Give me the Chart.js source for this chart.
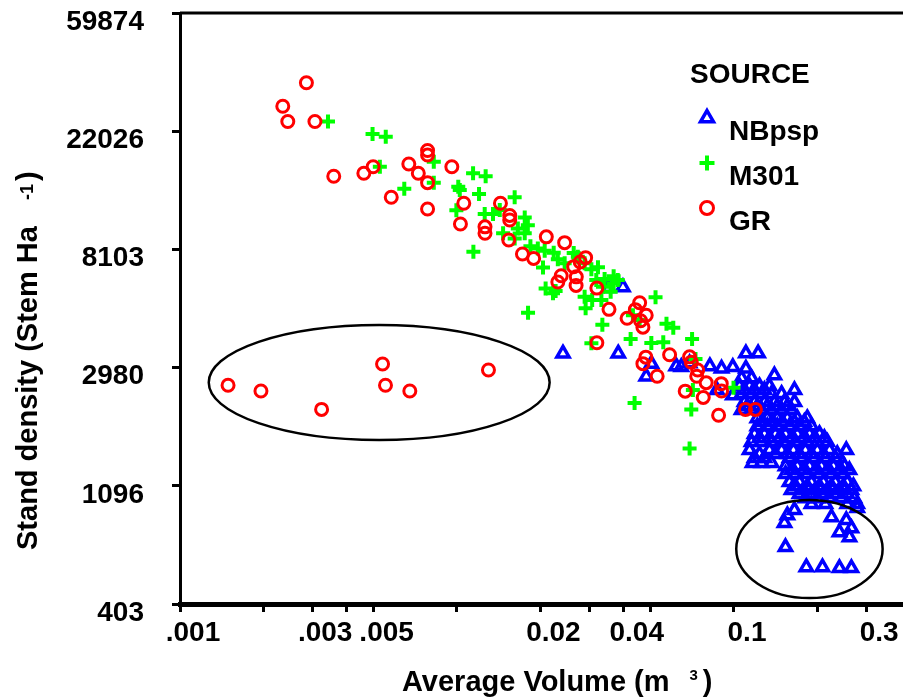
<!DOCTYPE html>
<html lang="en">

<head>
    <meta charset="UTF-8">
    <meta name="viewport" content="width=device-width, initial-scale=1.0">
    <title>Stand density vs Average Volume</title>
    <style>
        body {
            margin: 0;
            background: #fff;
        }

        #wrap {
            width: 903px;
            height: 700px;
        }
    </style>
</head>

<body>
    <div id="wrap"><canvas id="chart" width="903" height="700"></canvas></div>

    <script src="https://cdn.jsdelivr.net/npm/chart.js"></script>
    <script>
        // 軸の目盛り
        const xTickValues = [0.001, 0.002, 0.003, 0.004, 0.005, 0.01, 0.02, 0.03, 0.04, 0.05, 0.1, 0.2, 0.3];
        const xTickText = ['.001', '', '.003', '', '.005', '', '0.02', '', '0.04', '', '0.1', '', '0.3'];
        const xMin = 0.001;
        const xMax = 0.4075;
        const yTickValues = [403.43, 1096.63, 2980.96, 8103.08, 22026.47, 59874.14];
        const yTickText = ['403', '1096', '2980', '8103', '22026', '59874'];

        // NBpsp (三角)
        const nbpspX = [
            .02413, .0382, .03972, .03522, .0503, .04821, .06185, .06453, .06913, .08182,
            .09017, .09903, .1104, .1104, .1222, .1399, .1653, .08676, .09903,
            .1065, .1157,
            .1047, .1138, .1236, .1343,
            .1091, .1186, .1288,
            .1065, .1157, .1257, .1366, .1485,
            .1091, .1186, .1288, .1399, .1521, .1653,
            .1117, .1214, .1319, .1433, .1558,
            .1065, .1157, .1257, .1366, .1485, .1613,
            .1214, .1319, .1433, .1558, .1693, .1839,
            .1267, .1377, .1497, .1653, .1795,
            .1214, .1319, .1433, .1586, .1723, .1904,
            .1186, .1288, .1411, .1534, .1693, .1873, .2035,
            .1236, .1343, .1460, .1613, .1781, .1952, .2120,
            .1157, .1257, .1366, .1509, .1666, .1839, .1999, .2172,
            .1138, .1343, .1485, .1639, .1810, .1999, .2211, .2543,
            .1236, .1411, .1558, .1723, .1904, .2103, .2360,
            .1186, .1288, .1586, .1752, .1936, .2138, .2322,
            .1167, .1257, .1366,
            .1534, .1693, .1873, .2069, .2285, .2503,
            .1613, .1781, .1967, .2172, .2402, .2610,
            .1534, .1666, .1839, .2035, .2248, .2483,
            .1586, .1723, .1904, .2103, .2322, .2563,
            .1666, .1839, .2035, .2248, .2483, .2698,
            .1613, .1781, .1967, .2172, .2402, .2654,
            .1723, .1904, .2103, .2322, .2563,
            .1810, .1999, .2211, .2442, .2720,
            .1904, .2138, .2563, .2785,
            .1653, .1558, .1521, .1534, .2248, .2543, .2654, .2402, .2610, .2785,
            .1824, .2086, .2402, .2654
        ];
        const nbpspY = [
            3359, 3359, 5888, 5840, 3082, 2765, 3016, 2999, 3092, 3016,
            2957, 2996, 2957, 3365, 3365, 2794, 2466, 2466, 2359,
            2727, 2727,
            2547, 2547, 2547, 2547,
            2466, 2466, 2466,
            2385, 2385, 2385, 2385, 2385,
            2228, 2228, 2228, 2228, 2228, 2228,
            2150, 2150, 2150, 2150, 2150,
            2081, 2081, 2081, 2081, 2081, 2081,
            1944, 1944, 1944, 1944, 1944, 1944,
            1881, 1881, 1881, 1881, 1881,
            1816, 1816, 1816, 1816, 1816, 1816,
            1700, 1700, 1700, 1700, 1700, 1700, 1700,
            1642, 1642, 1642, 1642, 1642, 1642, 1642,
            1589, 1589, 1589, 1589, 1589, 1589, 1589, 1589,
            1484, 1484, 1484, 1484, 1484, 1484, 1484, 1484,
            1435, 1435, 1435, 1435, 1435, 1435, 1435,
            1386, 1386, 1386, 1386, 1386, 1386, 1386,
            1330, 1330, 1330,
            1294, 1294, 1294, 1294, 1294, 1294,
            1253, 1253, 1253, 1253, 1253, 1253,
            1212, 1212, 1212, 1212, 1212, 1212,
            1132, 1132, 1132, 1132, 1132, 1132,
            1093, 1093, 1093, 1093, 1093, 1093,
            1058, 1058, 1058, 1058, 1058, 1058,
            1023, 1023, 1023, 1023, 1023,
            988, 988, 988, 988, 988,
            940, 940, 940, 940,
            893, 855, 801, 653, 841, 821, 766, 741, 710, 908,
            551, 551, 547, 547
        ];

        // M301 (十字)
        const m301X = [
            .003422, .004956, .005531, .005266, .006452, .008245, .008245, .010106, .010234, .01143,
            .01269, .01201, .009948, .01259, .01349, .01427, .01615, .01467, .01146, .01756,
            .01802, .01756, .01658, .01615, .01841, .01958, .02073, .02234, .02312, .02447,
            .02638, .02044, .02889, .03056, .03228, .03183, .03411, .03677, .03805, .03677,
            .02089, .0227, .02221, .02889, .03076, .03321, .02913, .03587, .01805, .03348,
            .05209, .04316, .04564, .05705, .06037, .04235, .0503, .05555, .07058, .03056,
            .04376, .07012, .07105, .07262, .0996, .06913, .0273, .03365
        ];
        const m301Y = [
            23900, 21520, 21000, 16300, 13540, 17020, 14250, 13760, 13390, 15430,
            15050, 12950, 11280, 10940, 10940, 11310, 12610, 9288, 7948, 10620,
            9939, 9288, 9676, 8891, 8325, 8169, 8014, 7881, 7450, 7206,
            7861, 6957, 7206, 6845, 6974, 6254, 6305, 6459, 6254, 6084,
            5826, 5699, 5590, 5433, 5280, 5280, 4920, 5666, 4744, 4283,
            5410, 4641, 4458, 4322, 4180, 3801, 3671, 3696, 3795, 3662,
            2210, 2093, 2466, 3205, 2516, 1504, 7607, 5902
        ];

        // GR (丸)
        const grX = [
            .00286, .00235, .00245, .00307, .00359, .00461, .00498, .00670, .00725, .00783,
            .00783, .00783, .00579, .00783, .00958, .01058, .01029, .01262, .01262, .01435,
            .01550, .01550, .01538, .01723, .01891, .02101, .02447, .02913, .02785, .02638,
            .02378, .02312, .02696, .02691, .03198, .03538, .04564, .04405, .04112, .04821,
            .04602, .04690, .03198, .04806, .04690, .05280, .05855, .06913, .07012, .07395,
            .07337, .07934, .08995, .09017, .06667, .07744, .08799, .1100, .1195, .001491,
            .00196, .003245, .005386, .005519, .006756, .01299
        ];
        const grY = [
            33200, 27200, 23900, 23900, 15050, 15430, 16300, 16690, 15430, 14250,
            18700, 18000, 12600, 11400, 16300, 11970, 10050, 9806, 9288, 11970,
            10800, 10390, 8772, 7795, 7510, 9010, 8578, 7558, 7285, 7003,
            6485, 6151, 6423, 5974, 5840, 4880, 5162, 4867, 4523, 4641,
            4432, 4198, 3680, 3257, 3082, 2771, 3323, 3265, 3121, 2920,
            2771, 2624, 2602, 2446, 2442, 2316, 1991, 2093, 2093, 2567,
            2446, 2093, 3074, 2567, 2446, 2920
        ];

        // 囲みの楕円 (データ座標の範囲)
        const ringX = [[0.00127, 0.0216], [0.1019, 0.344]];
        const ringY = [[1616, 4275], [424, 973]];

        const FONT = "'Liberation Sans', Arial, sans-serif";

        function toPoints(xs, ys) {
            return xs.map((x, i) => ({ x: x, y: ys[i] }));
        }

        // 上付き文字を含むテキストを描く
        function drawPieces(ctx, pieces) {
            let cx = 0;
            pieces.forEach(p => {
                cx += p.gap || 0;
                ctx.font = `bold ${p.size}px ${FONT}`;
                ctx.fillText(p.text, cx, -(p.rise || 0));
                cx += ctx.measureText(p.text).width;
            });
        }

        const decorPlugin = {
            id: 'decor',
            afterDraw(chart) {
                const { ctx, chartArea, scales } = chart;
                ctx.save();

                // 上の枠線
                ctx.strokeStyle = '#000';
                ctx.lineWidth = 3;
                ctx.beginPath();
                ctx.moveTo(chartArea.left, chartArea.top);
                ctx.lineTo(chartArea.right, chartArea.top);
                ctx.stroke();

                // 楕円
                ctx.lineWidth = 2.5;
                ringX.forEach((r, i) => {
                    const x1 = scales.x.getPixelForValue(r[0]);
                    const x2 = scales.x.getPixelForValue(r[1]);
                    const y1 = scales.y.getPixelForValue(ringY[i][0]);
                    const y2 = scales.y.getPixelForValue(ringY[i][1]);
                    ctx.beginPath();
                    ctx.ellipse((x1 + x2) / 2, (y1 + y2) / 2, Math.abs(x2 - x1) / 2, Math.abs(y2 - y1) / 2, 0, 0, Math.PI * 2);
                    ctx.stroke();
                });

                // 軸タイトル
                ctx.fillStyle = '#000';
                ctx.textAlign = 'left';
                ctx.textBaseline = 'alphabetic';
                ctx.save();
                ctx.translate(402, 691);
                drawPieces(ctx, [
                    { text: 'Average Volume (m', size: 29 },
                    { text: '3', size: 15, rise: 11, gap: 20 },
                    { text: ')', size: 29, gap: 5 }
                ]);
                ctx.restore();

                ctx.save();
                ctx.translate(37, 550);
                ctx.rotate(-Math.PI / 2);
                drawPieces(ctx, [
                    { text: 'Stand density (Stem Ha', size: 29 },
                    { text: '-1', size: 18, rise: 4, gap: 26 },
                    { text: ')', size: 29, gap: 3 }
                ]);
                ctx.restore();

                // 凡例
                ctx.font = `bold 28px ${FONT}`;
                ctx.fillText('SOURCE', 690, 83);
                chart.data.datasets.forEach((ds, i) => {
                    const base = 140 + i * 45;
                    ctx.strokeStyle = ds.borderColor;
                    ctx.fillStyle = 'rgba(0,0,0,0)';
                    ctx.lineWidth = ds.borderWidth;
                    Chart.helpers.drawPoint(ctx, {
                        pointStyle: ds.pointStyle,
                        radius: ds.pointRadius + 0.5,
                        rotation: 0,
                        borderWidth: ds.borderWidth
                    }, 707, base - 22);
                    ctx.fillStyle = '#000';
                    ctx.fillText(ds.label, 729, base);
                });

                ctx.restore();
            }
        };

        function createChart(ctx) {
            const tickFont = { family: FONT, size: 28, weight: 'bold' };
            return new Chart(ctx, {
                type: 'scatter',
                data: {
                    datasets: [{
                        label: 'NBpsp',
                        data: toPoints(nbpspX, nbpspY),
                        pointStyle: 'triangle',
                        pointRadius: 7,
                        borderWidth: 3.5,
                        borderColor: '#0000ff',
                        backgroundColor: 'rgba(0,0,0,0)',
                        order: 3
                    }, {
                        label: 'M301',
                        data: toPoints(m301X, m301Y),
                        pointStyle: 'cross',
                        pointRadius: 7,
                        borderWidth: 4,
                        borderColor: '#00ff00',
                        backgroundColor: 'rgba(0,0,0,0)',
                        order: 2
                    }, {
                        label: 'GR',
                        data: toPoints(grX, grY),
                        pointStyle: 'circle',
                        pointRadius: 6,
                        borderWidth: 3,
                        borderColor: '#ff0000',
                        backgroundColor: 'rgba(0,0,0,0)',
                        order: 1
                    }]
                },
                options: {
                    responsive: false,
                    animation: false,
                    layout: { autoPadding: false, padding: { top: 13, right: 0, left: 0, bottom: 0 } },
                    plugins: {
                        legend: { display: false },
                        tooltip: { enabled: false }
                    },
                    scales: {
                        x: {
                            type: 'logarithmic',
                            min: xMin,
                            max: xMax,
                            afterBuildTicks: s => { s.ticks = xTickValues.map(v => ({ value: v })); },
                            afterFit: s => { s.height = 96; s.paddingLeft = 0; s.paddingRight = 0; },
                            border: { display: true, color: '#000', width: 5 },
                            grid: { drawOnChartArea: false, drawTicks: true, tickLength: 8, tickWidth: 3, tickColor: '#000' },
                            ticks: {
                                autoSkip: false,
                                maxRotation: 0,
                                padding: 4,
                                labelOffset: 13,
                                color: '#000',
                                font: tickFont,
                                callback: (v, i) => xTickText[i]
                            }
                        },
                        y: {
                            type: 'logarithmic',
                            min: yTickValues[0],
                            max: yTickValues[yTickValues.length - 1],
                            afterBuildTicks: s => { s.ticks = yTickValues.map(v => ({ value: v })); },
                            afterFit: s => { s.width = 180; s.paddingTop = 0; s.paddingBottom = 0; },
                            border: { display: true, color: '#000', width: 3 },
                            grid: { drawOnChartArea: false, drawTicks: true, tickLength: 8, tickWidth: 3, tickColor: '#000' },
                            ticks: {
                                autoSkip: false,
                                padding: 28,
                                labelOffset: 9,
                                color: '#000',
                                font: tickFont,
                                callback: (v, i) => yTickText[i]
                            }
                        }
                    }
                },
                plugins: [decorPlugin]
            });
        }

        document.addEventListener('DOMContentLoaded', function () {
            const ctx = document.getElementById('chart').getContext('2d');
            createChart(ctx);
        });
    </script>
</body>

</html>
